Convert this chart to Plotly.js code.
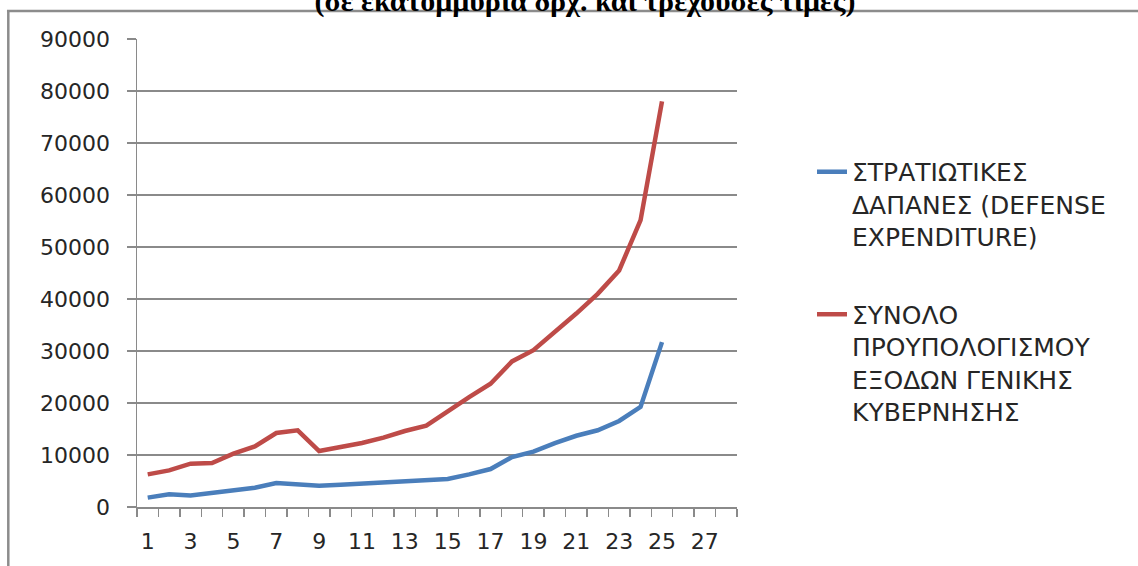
<!DOCTYPE html>
<html>
<head>
<meta charset="utf-8">
<script src="https://cdn.plot.ly/plotly-3.0.1.min.js"></script>
<style>
  html, body { margin: 0; padding: 0; background: #ffffff; }
  #chart { width: 1138px; height: 566px; }
</style>
</head>
<body>
<div id="chart"></div>
<script>
// ---- Data ----
const periods = [1,2,3,4,5,6,7,8,9,10,11,12,13,14,15,16,17,18,19,20,21,22,23,24,25];
const defenseExpenditure = [1800, 2450, 2200, 2700, 3200, 3700, 4600, 4350, 4100, 4300,
                            4550, 4800, 4870, 5130, 5380, 6280, 7300, 9600, 10650, 12300,
                            13700, 14750, 16550, 19250, 31700];
const generalGovBudget = [6280, 7050, 8330, 8460, 10250, 11650, 14230, 14740, 10770, 11540,
                          12300, 13330, 14620, 15650, 18460, 21150, 23700, 28000, 30150, 33550,
                          37200, 41000, 45500, 55150, 78000];
const xTickVals = [1,3,5,7,9,11,13,15,17,19,21,23,25,27];
const xTickText = ["1","3","5","7","9","11","13","15","17","19","21","23","25","27"];
const seriesNames = [
  "ΣΤΡΑΤΙΩΤΙΚΕΣ<br>ΔΑΠΑΝΕΣ (DEFENSE<br>EXPENDITURE)",
  "ΣΥΝΟΛΟ<br>ΠΡΟΥΠΟΛΟΓΙΣΜΟΥ<br>ΕΞΟΔΩΝ ΓΕΝΙΚΗΣ<br>ΚΥΒΕΡΝΗΣΗΣ"
];
const titleText = "(σε εκατομμύρια δρχ. και τρέχουσες τιμές)";

const gray = "#8a8a8a";
const textColor = "#262626";

const traces = [
  {
    x: periods, y: defenseExpenditure, type: "scatter", mode: "lines",
    name: seriesNames[0], legendgroup: "a",
    line: { color: "#4A7EBB", width: 4.5 }
  },
  {
    x: periods, y: generalGovBudget, type: "scatter", mode: "lines",
    name: seriesNames[1], legendgroup: "b",
    line: { color: "#BE4B48", width: 4.5 }
  }
];

const layout = {
  width: 1138, height: 566,
  margin: { l: 137, r: 401, t: 39, b: 59, pad: 0 },
  paper_bgcolor: "#ffffff", plot_bgcolor: "#ffffff",
  font: { family: "DejaVu Sans, sans-serif", color: textColor },
  title: {
    text: "<b>" + titleText + "</b>",
    font: { family: "Liberation Serif, serif", size: 30, color: "#000000" },
    xref: "container", x: 0.514, xanchor: "center",
    yref: "container", y: 1, yanchor: "middle"
  },
  showlegend: true,
  legend: {
    x: 1.125, xanchor: "left", y: 0.765, yanchor: "top",
    font: { family: "DejaVu Sans, sans-serif", size: 25, color: textColor },
    valign: "top", tracegroupgap: 42, bgcolor: "rgba(0,0,0,0)"
  },
  xaxis: {
    type: "linear", range: [0.5, 28.5],
    tickmode: "array", tickvals: xTickVals, ticktext: xTickText,
    ticks: "", ticklabelstandoff: 14,
    tickfont: { family: "DejaVu Sans, sans-serif", size: 22, color: textColor },
    minor: { tick0: 0.5, dtick: 1, ticks: "outside", ticklen: 8, tickwidth: 1.5, tickcolor: gray, showgrid: false },
    showgrid: false, zeroline: false,
    showline: true, linecolor: gray, linewidth: 1.5
  },
  yaxis: {
    range: [0, 90000], dtick: 10000, tick0: 0, tickformat: "d",
    ticks: "outside", ticklen: 9, tickwidth: 1.5, tickcolor: gray,
    ticklabelstandoff: 12,
    tickfont: { family: "DejaVu Sans, sans-serif", size: 22, color: textColor },
    showgrid: true, gridcolor: gray, gridwidth: 1.5,
    zeroline: false, showline: true, linecolor: gray, linewidth: 1.5
  },
  shapes: [
    { type: "line", xref: "paper", yref: "paper", x0: -0.2167, x1: 1.68, y0: 1.0598, y1: 1.0598,
      line: { color: "#8c8c8c", width: 2.5 } },
    { type: "line", xref: "paper", yref: "paper", x0: -0.2145, x1: -0.2145, y0: 1.0598, y1: -0.14,
      line: { color: "#8c8c8c", width: 2.5 } }
  ]
};

Plotly.newPlot("chart", traces, layout, { staticPlot: true, displayModeBar: false });
</script>
</body>
</html>
